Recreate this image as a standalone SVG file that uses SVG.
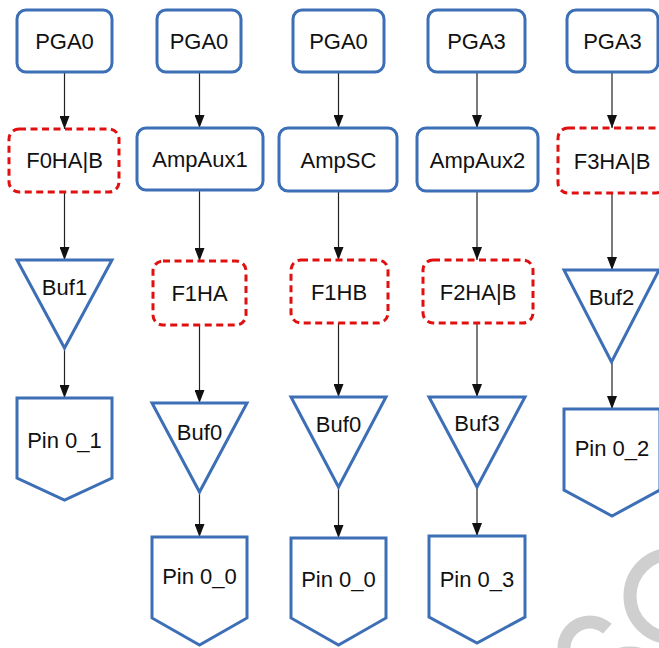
<svg xmlns="http://www.w3.org/2000/svg" width="659" height="648" viewBox="0 0 659 648">
  <defs>
    <marker id="arrow" viewBox="0 0 13 10" markerWidth="13" markerHeight="10" refX="13" refY="5" orient="auto" markerUnits="userSpaceOnUse">
      <path d="M0,0 L13,5 L0,10 z" fill="#111"/>
    </marker>
  </defs>
  <style>
    .box { fill: #fff; stroke: #3d6fb6; stroke-width: 3; }
    .filt { fill: #fff; stroke: #e01010; stroke-width: 3; stroke-dasharray: 7 4.5; }
    .lbl { font-family: "Liberation Sans", Arial, sans-serif; font-size: 22px; fill: #111; text-anchor: middle; }
    .edge { stroke: #222; stroke-width: 1.2; fill: none; marker-end: url(#arrow); }
    .mark { fill: none; stroke: #cfcfcf; stroke-width: 13; }
  </style>
  <rect width="659" height="648" fill="#fff"/>

  <!-- background logo arcs -->
  <g id="logo">
    <circle class="mark" cx="672" cy="596" r="42"/>
    <path class="mark" d="M564 648 A26 26 0 0 1 607.4 628.7"/>
    <path class="mark" d="M596 672 A40 40 0 0 1 664 672"/>
  </g>

  <!-- connectors -->
  <g id="connectors">
    <line class="edge" x1="64.5" y1="72" x2="64.5" y2="129"/>
    <line class="edge" x1="64.5" y1="192" x2="64.5" y2="260"/>
    <line class="edge" x1="64.5" y1="348" x2="64.5" y2="398"/>

    <line class="edge" x1="199.5" y1="72" x2="199.5" y2="128"/>
    <line class="edge" x1="199.5" y1="190" x2="199.5" y2="261"/>
    <line class="edge" x1="199.5" y1="325" x2="199.5" y2="403"/>
    <line class="edge" x1="199.5" y1="492" x2="199.5" y2="537"/>

    <line class="edge" x1="338.5" y1="72" x2="338.5" y2="128"/>
    <line class="edge" x1="338.5" y1="191" x2="338.5" y2="260"/>
    <line class="edge" x1="338.5" y1="323" x2="338.5" y2="397"/>
    <line class="edge" x1="338.5" y1="487" x2="338.5" y2="538"/>

    <line class="edge" x1="477" y1="72" x2="477" y2="128"/>
    <line class="edge" x1="477" y1="191" x2="477" y2="260"/>
    <line class="edge" x1="477" y1="323" x2="477" y2="397"/>
    <line class="edge" x1="477" y1="487" x2="477" y2="536"/>

    <line class="edge" x1="612" y1="72" x2="612" y2="128"/>
    <line class="edge" x1="612" y1="193" x2="612" y2="270"/>
    <line class="edge" x1="612" y1="362" x2="612" y2="409"/>
  </g>

  <!-- column 1 -->
  <g id="pga0-a"><rect class="box" x="17" y="10" width="95" height="62" rx="9"/><text class="lbl" x="64.5" y="49">PGA0</text></g>
  <g id="f0hab"><rect class="filt" x="9" y="129" width="110" height="63" rx="10"/><text class="lbl" x="64.5" y="168">F0HA|B</text></g>
  <g id="buf1"><polygon class="box" points="17,260 112,260 64.5,348"/><text class="lbl" x="64.5" y="295">Buf1</text></g>
  <g id="pin0-1"><polygon class="box" points="17,398 112,398 112,478 64.5,500 17,478"/><text class="lbl" x="64.5" y="448">Pin 0_1</text></g>

  <!-- column 2 -->
  <g id="pga0-b"><rect class="box" x="157" y="10" width="84" height="62" rx="9"/><text class="lbl" x="199" y="49">PGA0</text></g>
  <g id="ampaux1"><rect class="box" x="137" y="128" width="126" height="62" rx="9"/><text class="lbl" x="200" y="167">AmpAux1</text></g>
  <g id="f1ha"><rect class="filt" x="153" y="261" width="93" height="64" rx="10"/><text class="lbl" x="199.5" y="301">F1HA</text></g>
  <g id="buf0-a"><polygon class="box" points="152,403 247,403 199.5,492"/><text class="lbl" x="199.5" y="440">Buf0</text></g>
  <g id="pin0-0a"><polygon class="box" points="152,537 247,537 247,618 199.5,645 152,618"/><text class="lbl" x="199.5" y="584">Pin 0_0</text></g>

  <!-- column 3 -->
  <g id="pga0-c"><rect class="box" x="293" y="10" width="91" height="62" rx="9"/><text class="lbl" x="338.5" y="49">PGA0</text></g>
  <g id="ampsc"><rect class="box" x="279" y="128" width="118" height="63" rx="9"/><text class="lbl" x="338.5" y="167.5">AmpSC</text></g>
  <g id="f1hb"><rect class="filt" x="291" y="260" width="97" height="63" rx="10"/><text class="lbl" x="339" y="299.5">F1HB</text></g>
  <g id="buf0-b"><polygon class="box" points="291,397 386,397 338.5,487"/><text class="lbl" x="338.5" y="432">Buf0</text></g>
  <g id="pin0-0b"><polygon class="box" points="291,538 386,538 386,618 338.5,645 291,618"/><text class="lbl" x="338.5" y="587">Pin 0_0</text></g>

  <!-- column 4 -->
  <g id="pga3-a"><rect class="box" x="428" y="10" width="97" height="62" rx="9"/><text class="lbl" x="476.5" y="49">PGA3</text></g>
  <g id="ampaux2"><rect class="box" x="417" y="128" width="121" height="63" rx="9"/><text class="lbl" x="477.5" y="167.5">AmpAux2</text></g>
  <g id="f2hab"><rect class="filt" x="423" y="260" width="110" height="63" rx="10"/><text class="lbl" x="478" y="299.5">F2HA|B</text></g>
  <g id="buf3"><polygon class="box" points="429,397 525,397 477,487"/><text class="lbl" x="477" y="431">Buf3</text></g>
  <g id="pin0-3"><polygon class="box" points="429,536 525,536 525,617 477,643 429,617"/><text class="lbl" x="477" y="587">Pin 0_3</text></g>

  <!-- column 5 -->
  <g id="pga3-b"><rect class="box" x="567" y="10" width="91" height="62" rx="9"/><text class="lbl" x="612.5" y="49">PGA3</text></g>
  <g id="f3hab"><rect class="filt" x="558" y="128" width="108" height="65" rx="10"/><text class="lbl" x="612" y="168.5">F3HA|B</text></g>
  <g id="buf2"><polygon class="box" points="564,270 659,270 611.5,362"/><text class="lbl" x="611.5" y="305">Buf2</text></g>
  <g id="pin0-2"><polygon class="box" points="564,409 660,409 660,490 612,516 564,490"/><text class="lbl" x="612" y="456">Pin 0_2</text></g>
</svg>
